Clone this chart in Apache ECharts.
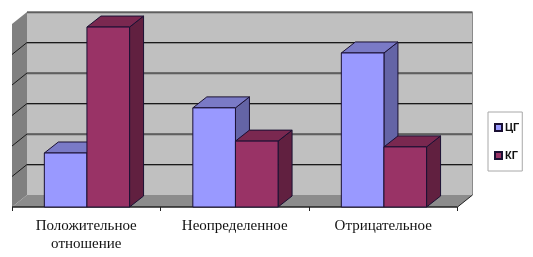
<!DOCTYPE html>
<html><head><meta charset="utf-8">
<style>html,body{margin:0;padding:0;background:#fff}#c{width:533px;height:257px}</style>
<script src="https://cdn.jsdelivr.net/npm/echarts@6/dist/echarts.min.js"></script>
</head><body><div id="c"></div>
<script>
var categories = ['Положительное\nотношение', 'Неопределенное', 'Отрицательное'];
var seriesCG = [1.77, 3.25, 5.05];
var seriesKG = [5.9, 2.16, 1.97];
var yTicks = [0, 1, 2, 3, 4, 5, 6];

var DX = 15, DY = -12, BDX = 14, BDY = -11;
var chart = echarts.init(document.getElementById('c'), null, {renderer: 'canvas'});

function poly(pts, fill, stroke, w) {
  return {type: 'polygon', shape: {points: pts}, silent: true,
    style: {fill: fill, stroke: stroke || null, lineWidth: w || 0}};
}
function seg(a, b, color, w) {
  return {type: 'line', silent: true, shape: {x1: a[0], y1: a[1], x2: b[0], y2: b[1]},
    style: {stroke: color, lineWidth: w}};
}
function renderWalls(params, api) {
  var x0 = params.coordSys.x, x1 = x0 + params.coordSys.width;
  var top = api.coord([0, yTicks[yTicks.length - 1]])[1];
  var base = api.coord([0, 0])[1];
  var kids = [
    poly([[x0 + DX, top + DY], [x1 + DX, top + DY], [x1 + DX, base + DY], [x0 + DX, base + DY]], '#c0c0c0'),
    poly([[x0, top], [x0 + DX, top + DY], [x0 + DX, base + DY], [x0, base]], '#808080'),
    poly([[x0, base], [x0 + DX, base + DY], [x1 + DX, base + DY], [x1, base]], '#8c8c8c')
  ];
  yTicks.forEach(function (t) {
    if (t === 0) return;
    var y = api.coord([0, t])[1];
    kids.push(seg([x0 + DX, y + DY + 1], [x1 + DX, y + DY + 1], '#8a8a8a', 1));
    kids.push(seg([x0 + DX, y + DY], [x1 + DX, y + DY], '#1a1a1a', 1));
    if (t !== yTicks[yTicks.length - 1]) kids.push(seg([x0, y], [x0 + DX, y + DY], '#1a1a1a', 1));
  });
  kids.push(seg([x1 + DX, top + DY], [x1 + DX, base + DY], '#8a8a8a', 1));
  kids.push(seg([x1, base], [x1 + DX, base + DY], '#222', 1));
  kids.push(seg([x0, base], [x1, base], '#222', 1.5));
  return {type: 'group', children: kids};
}
function barRenderer(offset, front, topC, side) {
  return function (params, api) {
    var c = api.value(0), v = api.value(1);
    var bw = api.size([1, 0])[0] * 0.287;
    var p = api.coord([c, v]), b = api.coord([c, 0]);
    var l = p[0] + offset * bw + 0.7, r = l + bw, t = p[1], bt = b[1];
    var line = '#1a1033';
    return {type: 'group', children: [
      poly([[r, t], [r + BDX, t + BDY], [r + BDX, bt + BDY], [r, bt]], side, line, 1),
      poly([[l, t], [l + BDX, t + BDY], [r + BDX, t + BDY], [r, t]], topC, line, 1),
      poly([[l, t], [r, t], [r, bt], [l, bt]], front, line, 1)
    ]};
  };
}
function toData(vals) { return vals.map(function (v, i) { return [i, v]; }); }

chart.setOption({
  animation: false,
  backgroundColor: '#ffffff',
  grid: {left: 12, right: 75.5, top: 24, bottom: 50, containLabel: false},
  xAxis: {
    type: 'category', data: categories,
    axisLine: {show: false},
    axisTick: {show: true, length: 4, lineStyle: {color: '#222', width: 1}},
    axisLabel: {interval: 0, color: '#111', fontFamily: 'Liberation Serif', fontSize: 15, lineHeight: 18, margin: 10}
  },
  yAxis: {
    type: 'value', min: yTicks[0], max: yTicks[yTicks.length - 1], interval: 1,
    axisLine: {show: false}, axisTick: {show: false}, axisLabel: {show: false}, splitLine: {show: false}
  },
  legend: {
    orient: 'vertical', left: 488, top: 112, width: 34,
    data: ['ЦГ', 'КГ'], icon: 'rect', itemWidth: 7, itemHeight: 7, itemGap: 17,
    padding: [10, 3, 10, 6], borderColor: '#a8a8a8', borderWidth: 1,
    selectedMode: false,
    textStyle: {fontFamily: 'Liberation Sans', fontSize: 11, fontWeight: 'bold', color: '#111', padding: [0, 0, 0, -2]}
  },
  series: [
    {type: 'custom', name: 'walls', silent: true, data: [[0, 0]], renderItem: renderWalls, z: 1, clip: false},
    {type: 'custom', name: 'ЦГ', data: toData(seriesCG), encode: {x: 0, y: 1}, z: 2, clip: false,
     itemStyle: {color: '#9999ff', borderColor: '#1a1033', borderWidth: 1},
     renderItem: barRenderer(-1, '#9999ff', '#7a7ac6', '#6464a6')},
    {type: 'custom', name: 'КГ', data: toData(seriesKG), encode: {x: 0, y: 1}, z: 3, clip: false,
     itemStyle: {color: '#993366', borderColor: '#1a1033', borderWidth: 1},
     renderItem: barRenderer(0, '#993366', '#7a2850', '#612040')}
  ]
});
</script></body></html>
